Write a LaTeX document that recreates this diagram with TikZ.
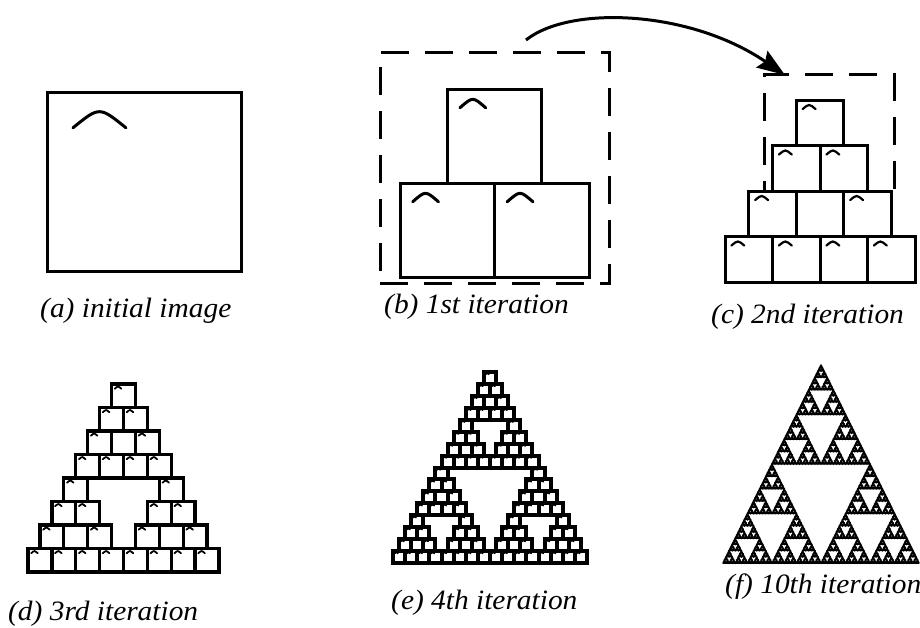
\documentclass[tikz,border=0pt]{standalone}
\usepackage{fontspec}
\setmainfont{Liberation Serif}
\newfontfamily\capfont{Liberation Serif Italic}
\usetikzlibrary{arrows.meta}
\tikzset{
  tilebox/.style={draw=black},
  tilearc/.style={draw=black, line cap=round},
  dashbox/.style={draw=black, line width=3pt, dash pattern=on 28pt off 16pt, inner sep=0pt},
  caption/.style={font=\fontsize{28}{32}\selectfont\capfont, inner sep=0pt, anchor=base west, xscale=1.05},
  bigarrow/.style={draw=black, line width=3pt, -{Stealth[length=28pt,width=20pt,inset=4pt]}}
}
% one tile: square with a small arc near its top left corner
\newcommand\tileat[4]{%
  \draw[tilebox] (#1,#2) rectangle ++(#3,#4);
  \draw[tilearc] (#1+0.134*#3,#2+0.2*#4) .. controls (#1+0.27*#3,#2+0.08*#4) .. (#1+0.407*#3,#2+0.2*#4);
}
% square fractal: level, x, y (top), w, h
\newcommand\sqfrac[5]{%
  \ifnum#1=0\relax
    \def\sfnext{\tileat{#2}{#3}{#4}{#5}}%
  \else
    \pgfmathsetmacro\sfW{#4/2}%
    \pgfmathsetmacro\sfH{#5/2}%
    \pgfmathsetmacro\sfXq{#2+#4/4}%
    \pgfmathsetmacro\sfXh{#2+#4/2}%
    \pgfmathsetmacro\sfYh{#3+#5/2}%
    \edef\sfnext{%
      \noexpand\sqfrac{\the\numexpr#1-1\relax}{\sfXq}{#3}{\sfW}{\sfH}%
      \noexpand\sqfrac{\the\numexpr#1-1\relax}{#2}{\sfYh}{\sfW}{\sfH}%
      \noexpand\sqfrac{\the\numexpr#1-1\relax}{\sfXh}{\sfYh}{\sfW}{\sfH}%
    }%
  \fi
  \sfnext}
% Sierpinski holes: level, ax, ay, bx, by, cx, cy
\newcommand\sierholes[7]{%
  \ifnum#1=0\relax
    \def\shnext{}%
  \else
    \pgfmathsetmacro\shABx{(#2+#4)/2}%
    \pgfmathsetmacro\shABy{(#3+#5)/2}%
    \pgfmathsetmacro\shBCx{(#4+#6)/2}%
    \pgfmathsetmacro\shBCy{(#5+#7)/2}%
    \pgfmathsetmacro\shCAx{(#6+#2)/2}%
    \pgfmathsetmacro\shCAy{(#7+#3)/2}%
    \edef\shnext{%
      \noexpand\filldraw[fill=white, draw=black, line width=1.1pt] (\shABx,\shABy) -- (\shBCx,\shBCy) -- (\shCAx,\shCAy) -- cycle;%
      \noexpand\sierholes{\the\numexpr#1-1\relax}{#2}{#3}{\shABx}{\shABy}{\shCAx}{\shCAy}%
      \noexpand\sierholes{\the\numexpr#1-1\relax}{\shABx}{\shABy}{#4}{#5}{\shBCx}{\shBCy}%
      \noexpand\sierholes{\the\numexpr#1-1\relax}{\shCAx}{\shCAy}{\shBCx}{\shBCy}{#6}{#7}%
    }%
  \fi
  \shnext}

\begin{document}
\begin{tikzpicture}[x=1pt, y=-1pt]
\useasboundingbox (0,0) rectangle (920,627);

% (a) initial image
\begin{scope}[line width=3pt]
  \sqfrac{0}{47}{92}{194}{179}
\end{scope}
\node[caption] (capa) at (40,317) {(a) initial image};

% (b) 1st iteration
\begin{scope}[line width=3pt]
  \sqfrac{1}{400}{89}{189}{188}
\end{scope}
\node[dashbox, minimum width=229pt, minimum height=231pt] (bdash) at (494.5,167.5) {};
\node[caption] (capb) at (384,313) {(b) 1st iteration};

% (c) 2nd iteration
\begin{scope}[line width=3pt, tilearc/.append style={line width=2.2pt}]
  \sqfrac{2}{725}{100}{190}{182}
\end{scope}
\node[dashbox, minimum width=130pt, minimum height=117pt] (cdash) at (829,132.5) {};
\node[caption] (capc) at (711,323) {(c) 2nd iteration};

% arrow from (b) to (c)
\coordinate (arrowfrom) at (526,40);
\coordinate (arrowto) at (785,75);
\draw[bigarrow] (arrowfrom) .. controls (570,5) and (690,10) .. (arrowto);

% (d) 3rd iteration
\begin{scope}[line width=3.3pt, tilearc/.append style={line width=1.8pt}]
  \sqfrac{3}{28}{384}{191}{188}
\end{scope}
\node[caption] (capd) at (8,620) {(d) 3rd iteration};

% (e) 4th iteration
\begin{scope}[line width=4pt, tilearc/.append style={line width=1.5pt}]
  \sqfrac{4}{393}{372}{194}{191}
\end{scope}
\node[caption] (cape) at (391,609) {(e) 4th iteration};

% (f) 10th iteration
\filldraw[black, line width=1.5pt, line join=round] (723,563) -- (919,563) -- (821,365) -- cycle;
\sierholes{6}{723}{563}{919}{563}{821}{365}
\node[caption] (capf) at (725,593) {(f) 10th iteration};
\end{tikzpicture}
\end{document}
